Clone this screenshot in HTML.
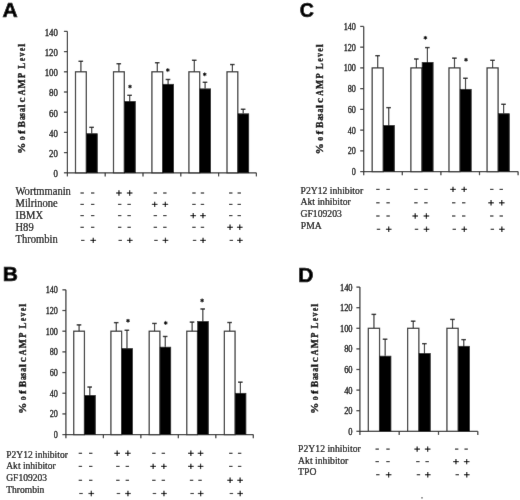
<!DOCTYPE html>
<html><head><meta charset="utf-8"><style>
html,body{margin:0;padding:0;background:#fff;}
svg{display:block;filter:grayscale(1);}
</style></head><body>
<svg width="520" height="500" viewBox="0 0 520 500">
<defs><filter id="bl" x="0" y="0" width="520" height="500" filterUnits="userSpaceOnUse"><feConvolveMatrix order="3" kernelMatrix="0.0035 0.0587 0.0035 0.0587 1.0000 0.0587 0.0035 0.0587 0.0035" edgeMode="duplicate" preserveAlpha="true"/></filter></defs>
<rect width="520" height="500" fill="#fff"/>
<g filter="url(#bl)">
<rect width="520" height="500" fill="#fff"/>
<line x1="67.40" y1="31.40" x2="67.40" y2="172.80" stroke="#333" stroke-width="1.25"/>
<line x1="67.40" y1="172.80" x2="256.40" y2="172.80" stroke="#333" stroke-width="1.25"/>
<line x1="63.90" y1="172.80" x2="67.40" y2="172.80" stroke="#333" stroke-width="1.25"/>
<text x="0" y="0" transform="translate(57.90,177.20) scale(0.82,1)" text-anchor="end" font-size="10.8" style="font-family:'Liberation Serif', serif" fill="#000" stroke="#000" stroke-width="0.32">0</text>
<line x1="63.90" y1="152.60" x2="67.40" y2="152.60" stroke="#333" stroke-width="1.25"/>
<text x="0" y="0" transform="translate(57.90,157.00) scale(0.82,1)" text-anchor="end" font-size="10.8" style="font-family:'Liberation Serif', serif" fill="#000" stroke="#000" stroke-width="0.32">20</text>
<line x1="63.90" y1="132.40" x2="67.40" y2="132.40" stroke="#333" stroke-width="1.25"/>
<text x="0" y="0" transform="translate(57.90,136.80) scale(0.82,1)" text-anchor="end" font-size="10.8" style="font-family:'Liberation Serif', serif" fill="#000" stroke="#000" stroke-width="0.32">40</text>
<line x1="63.90" y1="112.20" x2="67.40" y2="112.20" stroke="#333" stroke-width="1.25"/>
<text x="0" y="0" transform="translate(57.90,116.60) scale(0.82,1)" text-anchor="end" font-size="10.8" style="font-family:'Liberation Serif', serif" fill="#000" stroke="#000" stroke-width="0.32">60</text>
<line x1="63.90" y1="92.00" x2="67.40" y2="92.00" stroke="#333" stroke-width="1.25"/>
<text x="0" y="0" transform="translate(57.90,96.40) scale(0.82,1)" text-anchor="end" font-size="10.8" style="font-family:'Liberation Serif', serif" fill="#000" stroke="#000" stroke-width="0.32">80</text>
<line x1="63.90" y1="71.80" x2="67.40" y2="71.80" stroke="#333" stroke-width="1.25"/>
<text x="0" y="0" transform="translate(57.90,76.20) scale(0.82,1)" text-anchor="end" font-size="10.8" style="font-family:'Liberation Serif', serif" fill="#000" stroke="#000" stroke-width="0.32">100</text>
<line x1="63.90" y1="51.60" x2="67.40" y2="51.60" stroke="#333" stroke-width="1.25"/>
<text x="0" y="0" transform="translate(57.90,56.00) scale(0.82,1)" text-anchor="end" font-size="10.8" style="font-family:'Liberation Serif', serif" fill="#000" stroke="#000" stroke-width="0.32">120</text>
<line x1="63.90" y1="31.40" x2="67.40" y2="31.40" stroke="#333" stroke-width="1.25"/>
<text x="0" y="0" transform="translate(57.90,35.80) scale(0.82,1)" text-anchor="end" font-size="10.8" style="font-family:'Liberation Serif', serif" fill="#000" stroke="#000" stroke-width="0.32">140</text>
<line x1="67.40" y1="172.80" x2="67.40" y2="176.40" stroke="#333" stroke-width="1.25"/>
<line x1="105.20" y1="172.80" x2="105.20" y2="176.40" stroke="#333" stroke-width="1.25"/>
<line x1="143.00" y1="172.80" x2="143.00" y2="176.40" stroke="#333" stroke-width="1.25"/>
<line x1="180.80" y1="172.80" x2="180.80" y2="176.40" stroke="#333" stroke-width="1.25"/>
<line x1="218.60" y1="172.80" x2="218.60" y2="176.40" stroke="#333" stroke-width="1.25"/>
<line x1="256.40" y1="172.80" x2="256.40" y2="176.40" stroke="#333" stroke-width="1.25"/>
<rect x="75.50" y="71.80" width="10.80" height="101.00" fill="#fff" stroke="#333" stroke-width="1.25"/>
<line x1="80.90" y1="71.80" x2="80.90" y2="61.30" stroke="#333" stroke-width="1.2"/>
<line x1="78.50" y1="61.30" x2="83.10" y2="61.30" stroke="#222" stroke-width="1.4"/>
<rect x="86.50" y="133.71" width="10.80" height="39.09" fill="#000" stroke="#000" stroke-width="0.6"/>
<line x1="91.70" y1="133.41" x2="91.70" y2="127.35" stroke="#333" stroke-width="1.2"/>
<line x1="89.30" y1="127.35" x2="93.90" y2="127.35" stroke="#222" stroke-width="1.4"/>
<rect x="113.50" y="71.80" width="10.80" height="101.00" fill="#fff" stroke="#333" stroke-width="1.25"/>
<line x1="118.90" y1="71.80" x2="118.90" y2="63.72" stroke="#333" stroke-width="1.2"/>
<line x1="116.50" y1="63.72" x2="121.10" y2="63.72" stroke="#222" stroke-width="1.4"/>
<rect x="124.50" y="101.39" width="10.80" height="71.41" fill="#000" stroke="#000" stroke-width="0.6"/>
<line x1="129.70" y1="101.09" x2="129.70" y2="95.33" stroke="#333" stroke-width="1.2"/>
<line x1="127.30" y1="95.33" x2="131.90" y2="95.33" stroke="#222" stroke-width="1.4"/>
<g stroke="#222" stroke-width="1.1" stroke-linecap="round"><line x1="130.00" y1="85.00" x2="130.00" y2="88.00"/><line x1="128.70" y1="85.75" x2="131.30" y2="87.25"/><line x1="128.70" y1="87.25" x2="131.30" y2="85.75"/></g><circle cx="130.00" cy="86.50" r="1.0" fill="#000"/>
<rect x="151.90" y="71.80" width="10.80" height="101.00" fill="#fff" stroke="#333" stroke-width="1.25"/>
<line x1="157.30" y1="71.80" x2="157.30" y2="62.71" stroke="#333" stroke-width="1.2"/>
<line x1="154.90" y1="62.71" x2="159.50" y2="62.71" stroke="#222" stroke-width="1.4"/>
<rect x="162.90" y="84.22" width="10.80" height="88.58" fill="#000" stroke="#000" stroke-width="0.6"/>
<line x1="168.10" y1="83.92" x2="168.10" y2="79.48" stroke="#333" stroke-width="1.2"/>
<line x1="165.70" y1="79.48" x2="170.30" y2="79.48" stroke="#222" stroke-width="1.4"/>
<g stroke="#222" stroke-width="1.1" stroke-linecap="round"><line x1="167.80" y1="68.60" x2="167.80" y2="71.60"/><line x1="166.50" y1="69.35" x2="169.10" y2="70.85"/><line x1="166.50" y1="70.85" x2="169.10" y2="69.35"/></g><circle cx="167.80" cy="70.10" r="1.0" fill="#000"/>
<rect x="188.90" y="71.80" width="10.80" height="101.00" fill="#fff" stroke="#333" stroke-width="1.25"/>
<line x1="194.30" y1="71.80" x2="194.30" y2="60.29" stroke="#333" stroke-width="1.2"/>
<line x1="191.90" y1="60.29" x2="196.50" y2="60.29" stroke="#222" stroke-width="1.4"/>
<rect x="199.90" y="88.87" width="10.80" height="83.93" fill="#000" stroke="#000" stroke-width="0.6"/>
<line x1="205.10" y1="88.57" x2="205.10" y2="82.30" stroke="#333" stroke-width="1.2"/>
<line x1="202.70" y1="82.30" x2="207.30" y2="82.30" stroke="#222" stroke-width="1.4"/>
<g stroke="#222" stroke-width="1.1" stroke-linecap="round"><line x1="204.70" y1="72.80" x2="204.70" y2="75.80"/><line x1="203.40" y1="73.55" x2="206.00" y2="75.05"/><line x1="203.40" y1="75.05" x2="206.00" y2="73.55"/></g><circle cx="204.70" cy="74.30" r="1.0" fill="#000"/>
<rect x="227.00" y="71.80" width="10.80" height="101.00" fill="#fff" stroke="#333" stroke-width="1.25"/>
<line x1="232.40" y1="71.80" x2="232.40" y2="64.53" stroke="#333" stroke-width="1.2"/>
<line x1="230.00" y1="64.53" x2="234.60" y2="64.53" stroke="#222" stroke-width="1.4"/>
<rect x="238.00" y="113.81" width="10.80" height="58.99" fill="#000" stroke="#000" stroke-width="0.6"/>
<line x1="243.20" y1="113.51" x2="243.20" y2="109.27" stroke="#333" stroke-width="1.2"/>
<line x1="240.80" y1="109.27" x2="245.40" y2="109.27" stroke="#222" stroke-width="1.4"/>
<g font-size="10.1" font-weight="bold" style="font-family:'Liberation Serif', serif" fill="#000" stroke="#000" stroke-width="0.35"><text x="0" y="0" transform="translate(25.20,152.90) rotate(-90) scale(1.120,1) translate(-1.04,0)">%</text><text x="0" y="0" transform="translate(25.20,140.00) rotate(-90) scale(0.780,1) translate(-0.38,0)">o</text><text x="0" y="0" transform="translate(25.20,134.00) rotate(-90) scale(1.120,1) translate(-0.07,0)">f</text><text x="0" y="0" transform="translate(25.20,127.30) rotate(-90) scale(0.954,1) translate(-0.17,0)">B</text><text x="0" y="0" transform="translate(25.20,119.80) rotate(-90) scale(0.780,1) translate(-0.32,0)">a</text><text x="0" y="0" transform="translate(25.20,115.90) rotate(-90) scale(0.800,1) translate(-0.30,0)">s</text><text x="0" y="0" transform="translate(25.20,111.70) rotate(-90) scale(0.780,1) translate(-0.32,0)">a</text><text x="0" y="0" transform="translate(25.20,107.20) rotate(-90) scale(1.120,1) translate(-0.20,0)">l</text><text x="0" y="0" transform="translate(25.20,102.00) rotate(-90) scale(1.120,1) translate(-0.34,0)">c</text><text x="0" y="0" transform="translate(25.20,95.20) rotate(-90) scale(0.780,1) translate(-0.10,0)">A</text><text x="0" y="0" transform="translate(25.20,88.30) rotate(-90) scale(0.959,1) translate(-0.17,0)">M</text><text x="0" y="0" transform="translate(25.20,77.80) rotate(-90) scale(0.841,1) translate(-0.17,0)">P</text><text x="0" y="0" transform="translate(25.20,68.50) rotate(-90) scale(0.879,1) translate(-0.17,0)">L</text><text x="0" y="0" transform="translate(25.20,61.00) rotate(-90) scale(0.780,1) translate(-0.34,0)">e</text><text x="0" y="0" transform="translate(25.20,56.50) rotate(-90) scale(0.780,1) translate(-0.00,0)">v</text><text x="0" y="0" transform="translate(25.20,51.10) rotate(-90) scale(0.780,1) translate(-0.34,0)">e</text><text x="0" y="0" transform="translate(25.20,46.60) rotate(-90) scale(1.109,1) translate(-0.20,0)">l</text></g>
<text x="0" y="0" transform="translate(2.5,16.8) scale(1.0,1)" font-size="21" font-weight="bold" style="font-family:'Liberation Sans', sans-serif" fill="#000" stroke="#000" stroke-width="0.7">A</text>
<text x="0" y="0" transform="translate(15.5,194.5) scale(0.91,1)" font-size="11.6" style="font-family:'Liberation Serif', serif" fill="#000" stroke="#000" stroke-width="0.22">Wortmmanin</text>
<text x="0" y="0" transform="translate(15.5,206.5) scale(0.91,1)" font-size="11.6" style="font-family:'Liberation Serif', serif" fill="#000" stroke="#000" stroke-width="0.22">Milrinone</text>
<text x="0" y="0" transform="translate(15.5,218.5) scale(0.91,1)" font-size="11.6" style="font-family:'Liberation Serif', serif" fill="#000" stroke="#000" stroke-width="0.22">IBMX</text>
<text x="0" y="0" transform="translate(15.5,230.5) scale(0.91,1)" font-size="11.6" style="font-family:'Liberation Serif', serif" fill="#000" stroke="#000" stroke-width="0.22">H89</text>
<text x="0" y="0" transform="translate(15.5,242.5) scale(0.91,1)" font-size="11.6" style="font-family:'Liberation Serif', serif" fill="#000" stroke="#000" stroke-width="0.22">Thrombin</text>
<line x1="80.45" y1="193.00" x2="83.85" y2="193.00" stroke="#1a1a1a" stroke-width="1.15"/>
<line x1="90.95" y1="193.00" x2="94.35" y2="193.00" stroke="#1a1a1a" stroke-width="1.15"/>
<line x1="116.15" y1="193.00" x2="121.75" y2="193.00" stroke="#111" stroke-width="1.2"/>
<line x1="118.95" y1="190.30" x2="118.95" y2="195.70" stroke="#111" stroke-width="1.2"/>
<line x1="126.85" y1="193.00" x2="132.45" y2="193.00" stroke="#111" stroke-width="1.2"/>
<line x1="129.65" y1="190.30" x2="129.65" y2="195.70" stroke="#111" stroke-width="1.2"/>
<line x1="153.65" y1="193.00" x2="157.05" y2="193.00" stroke="#1a1a1a" stroke-width="1.15"/>
<line x1="163.15" y1="193.00" x2="166.55" y2="193.00" stroke="#1a1a1a" stroke-width="1.15"/>
<line x1="192.25" y1="193.00" x2="195.65" y2="193.00" stroke="#1a1a1a" stroke-width="1.15"/>
<line x1="200.75" y1="193.00" x2="204.15" y2="193.00" stroke="#1a1a1a" stroke-width="1.15"/>
<line x1="229.05" y1="193.00" x2="232.45" y2="193.00" stroke="#1a1a1a" stroke-width="1.15"/>
<line x1="237.55" y1="193.00" x2="240.95" y2="193.00" stroke="#1a1a1a" stroke-width="1.15"/>
<line x1="80.45" y1="204.40" x2="83.85" y2="204.40" stroke="#1a1a1a" stroke-width="1.15"/>
<line x1="90.95" y1="204.40" x2="94.35" y2="204.40" stroke="#1a1a1a" stroke-width="1.15"/>
<line x1="117.95" y1="204.40" x2="121.35" y2="204.40" stroke="#1a1a1a" stroke-width="1.15"/>
<line x1="127.45" y1="204.40" x2="130.85" y2="204.40" stroke="#1a1a1a" stroke-width="1.15"/>
<line x1="151.85" y1="204.40" x2="157.45" y2="204.40" stroke="#111" stroke-width="1.2"/>
<line x1="154.65" y1="201.70" x2="154.65" y2="207.10" stroke="#111" stroke-width="1.2"/>
<line x1="162.55" y1="204.40" x2="168.15" y2="204.40" stroke="#111" stroke-width="1.2"/>
<line x1="165.35" y1="201.70" x2="165.35" y2="207.10" stroke="#111" stroke-width="1.2"/>
<line x1="192.25" y1="204.40" x2="195.65" y2="204.40" stroke="#1a1a1a" stroke-width="1.15"/>
<line x1="200.75" y1="204.40" x2="204.15" y2="204.40" stroke="#1a1a1a" stroke-width="1.15"/>
<line x1="229.05" y1="204.40" x2="232.45" y2="204.40" stroke="#1a1a1a" stroke-width="1.15"/>
<line x1="237.55" y1="204.40" x2="240.95" y2="204.40" stroke="#1a1a1a" stroke-width="1.15"/>
<line x1="80.45" y1="215.60" x2="83.85" y2="215.60" stroke="#1a1a1a" stroke-width="1.15"/>
<line x1="90.95" y1="215.60" x2="94.35" y2="215.60" stroke="#1a1a1a" stroke-width="1.15"/>
<line x1="117.95" y1="215.60" x2="121.35" y2="215.60" stroke="#1a1a1a" stroke-width="1.15"/>
<line x1="127.45" y1="215.60" x2="130.85" y2="215.60" stroke="#1a1a1a" stroke-width="1.15"/>
<line x1="153.65" y1="215.60" x2="157.05" y2="215.60" stroke="#1a1a1a" stroke-width="1.15"/>
<line x1="163.15" y1="215.60" x2="166.55" y2="215.60" stroke="#1a1a1a" stroke-width="1.15"/>
<line x1="190.45" y1="215.60" x2="196.05" y2="215.60" stroke="#111" stroke-width="1.2"/>
<line x1="193.25" y1="212.90" x2="193.25" y2="218.30" stroke="#111" stroke-width="1.2"/>
<line x1="200.15" y1="215.60" x2="205.75" y2="215.60" stroke="#111" stroke-width="1.2"/>
<line x1="202.95" y1="212.90" x2="202.95" y2="218.30" stroke="#111" stroke-width="1.2"/>
<line x1="229.05" y1="215.60" x2="232.45" y2="215.60" stroke="#1a1a1a" stroke-width="1.15"/>
<line x1="237.55" y1="215.60" x2="240.95" y2="215.60" stroke="#1a1a1a" stroke-width="1.15"/>
<line x1="80.45" y1="227.30" x2="83.85" y2="227.30" stroke="#1a1a1a" stroke-width="1.15"/>
<line x1="90.95" y1="227.30" x2="94.35" y2="227.30" stroke="#1a1a1a" stroke-width="1.15"/>
<line x1="117.95" y1="227.30" x2="121.35" y2="227.30" stroke="#1a1a1a" stroke-width="1.15"/>
<line x1="127.45" y1="227.30" x2="130.85" y2="227.30" stroke="#1a1a1a" stroke-width="1.15"/>
<line x1="153.65" y1="227.30" x2="157.05" y2="227.30" stroke="#1a1a1a" stroke-width="1.15"/>
<line x1="163.15" y1="227.30" x2="166.55" y2="227.30" stroke="#1a1a1a" stroke-width="1.15"/>
<line x1="192.25" y1="227.30" x2="195.65" y2="227.30" stroke="#1a1a1a" stroke-width="1.15"/>
<line x1="200.75" y1="227.30" x2="204.15" y2="227.30" stroke="#1a1a1a" stroke-width="1.15"/>
<line x1="227.25" y1="227.30" x2="232.85" y2="227.30" stroke="#111" stroke-width="1.2"/>
<line x1="230.05" y1="224.60" x2="230.05" y2="230.00" stroke="#111" stroke-width="1.2"/>
<line x1="236.95" y1="227.30" x2="242.55" y2="227.30" stroke="#111" stroke-width="1.2"/>
<line x1="239.75" y1="224.60" x2="239.75" y2="230.00" stroke="#111" stroke-width="1.2"/>
<line x1="81.05" y1="240.40" x2="84.45" y2="240.40" stroke="#1a1a1a" stroke-width="1.15"/>
<line x1="90.45" y1="240.40" x2="96.05" y2="240.40" stroke="#111" stroke-width="1.2"/>
<line x1="93.25" y1="237.70" x2="93.25" y2="243.10" stroke="#111" stroke-width="1.2"/>
<line x1="118.55" y1="240.40" x2="121.95" y2="240.40" stroke="#1a1a1a" stroke-width="1.15"/>
<line x1="126.95" y1="240.40" x2="132.55" y2="240.40" stroke="#111" stroke-width="1.2"/>
<line x1="129.75" y1="237.70" x2="129.75" y2="243.10" stroke="#111" stroke-width="1.2"/>
<line x1="154.25" y1="240.40" x2="157.65" y2="240.40" stroke="#1a1a1a" stroke-width="1.15"/>
<line x1="162.65" y1="240.40" x2="168.25" y2="240.40" stroke="#111" stroke-width="1.2"/>
<line x1="165.45" y1="237.70" x2="165.45" y2="243.10" stroke="#111" stroke-width="1.2"/>
<line x1="192.85" y1="240.40" x2="196.25" y2="240.40" stroke="#1a1a1a" stroke-width="1.15"/>
<line x1="200.25" y1="240.40" x2="205.85" y2="240.40" stroke="#111" stroke-width="1.2"/>
<line x1="203.05" y1="237.70" x2="203.05" y2="243.10" stroke="#111" stroke-width="1.2"/>
<line x1="229.65" y1="240.40" x2="233.05" y2="240.40" stroke="#1a1a1a" stroke-width="1.15"/>
<line x1="237.05" y1="240.40" x2="242.65" y2="240.40" stroke="#111" stroke-width="1.2"/>
<line x1="239.85" y1="237.70" x2="239.85" y2="243.10" stroke="#111" stroke-width="1.2"/>
<line x1="65.90" y1="289.84" x2="65.90" y2="434.60" stroke="#333" stroke-width="1.25"/>
<line x1="65.90" y1="434.60" x2="253.30" y2="434.60" stroke="#333" stroke-width="1.25"/>
<line x1="62.40" y1="434.60" x2="65.90" y2="434.60" stroke="#333" stroke-width="1.25"/>
<text x="0" y="0" transform="translate(57.90,438.00) scale(0.84,1)" text-anchor="end" font-size="9.7" style="font-family:'Liberation Serif', serif" fill="#000" stroke="#000" stroke-width="0.32">0</text>
<line x1="62.40" y1="413.92" x2="65.90" y2="413.92" stroke="#333" stroke-width="1.25"/>
<text x="0" y="0" transform="translate(57.90,417.32) scale(0.84,1)" text-anchor="end" font-size="9.7" style="font-family:'Liberation Serif', serif" fill="#000" stroke="#000" stroke-width="0.32">20</text>
<line x1="62.40" y1="393.24" x2="65.90" y2="393.24" stroke="#333" stroke-width="1.25"/>
<text x="0" y="0" transform="translate(57.90,396.64) scale(0.84,1)" text-anchor="end" font-size="9.7" style="font-family:'Liberation Serif', serif" fill="#000" stroke="#000" stroke-width="0.32">40</text>
<line x1="62.40" y1="372.56" x2="65.90" y2="372.56" stroke="#333" stroke-width="1.25"/>
<text x="0" y="0" transform="translate(57.90,375.96) scale(0.84,1)" text-anchor="end" font-size="9.7" style="font-family:'Liberation Serif', serif" fill="#000" stroke="#000" stroke-width="0.32">60</text>
<line x1="62.40" y1="351.88" x2="65.90" y2="351.88" stroke="#333" stroke-width="1.25"/>
<text x="0" y="0" transform="translate(57.90,355.28) scale(0.84,1)" text-anchor="end" font-size="9.7" style="font-family:'Liberation Serif', serif" fill="#000" stroke="#000" stroke-width="0.32">80</text>
<line x1="62.40" y1="331.20" x2="65.90" y2="331.20" stroke="#333" stroke-width="1.25"/>
<text x="0" y="0" transform="translate(57.90,334.60) scale(0.84,1)" text-anchor="end" font-size="9.7" style="font-family:'Liberation Serif', serif" fill="#000" stroke="#000" stroke-width="0.32">100</text>
<line x1="62.40" y1="310.52" x2="65.90" y2="310.52" stroke="#333" stroke-width="1.25"/>
<text x="0" y="0" transform="translate(57.90,313.92) scale(0.84,1)" text-anchor="end" font-size="9.7" style="font-family:'Liberation Serif', serif" fill="#000" stroke="#000" stroke-width="0.32">120</text>
<line x1="62.40" y1="289.84" x2="65.90" y2="289.84" stroke="#333" stroke-width="1.25"/>
<text x="0" y="0" transform="translate(57.90,293.24) scale(0.84,1)" text-anchor="end" font-size="9.7" style="font-family:'Liberation Serif', serif" fill="#000" stroke="#000" stroke-width="0.32">140</text>
<line x1="65.90" y1="434.60" x2="65.90" y2="438.20" stroke="#333" stroke-width="1.25"/>
<line x1="103.38" y1="434.60" x2="103.38" y2="438.20" stroke="#333" stroke-width="1.25"/>
<line x1="140.86" y1="434.60" x2="140.86" y2="438.20" stroke="#333" stroke-width="1.25"/>
<line x1="178.34" y1="434.60" x2="178.34" y2="438.20" stroke="#333" stroke-width="1.25"/>
<line x1="215.82" y1="434.60" x2="215.82" y2="438.20" stroke="#333" stroke-width="1.25"/>
<line x1="253.30" y1="434.60" x2="253.30" y2="438.20" stroke="#333" stroke-width="1.25"/>
<rect x="73.73" y="331.20" width="10.71" height="103.40" fill="#fff" stroke="#333" stroke-width="1.25"/>
<line x1="79.09" y1="331.20" x2="79.09" y2="324.89" stroke="#333" stroke-width="1.2"/>
<line x1="76.69" y1="324.89" x2="81.29" y2="324.89" stroke="#222" stroke-width="1.4"/>
<rect x="84.64" y="395.40" width="10.71" height="39.20" fill="#000" stroke="#000" stroke-width="0.6"/>
<line x1="89.79" y1="395.10" x2="89.79" y2="387.04" stroke="#333" stroke-width="1.2"/>
<line x1="87.39" y1="387.04" x2="91.99" y2="387.04" stroke="#222" stroke-width="1.4"/>
<rect x="110.91" y="331.20" width="10.71" height="103.40" fill="#fff" stroke="#333" stroke-width="1.25"/>
<line x1="116.27" y1="331.20" x2="116.27" y2="322.62" stroke="#333" stroke-width="1.2"/>
<line x1="113.87" y1="322.62" x2="118.47" y2="322.62" stroke="#222" stroke-width="1.4"/>
<rect x="121.82" y="348.56" width="10.71" height="86.04" fill="#000" stroke="#000" stroke-width="0.6"/>
<line x1="126.97" y1="348.26" x2="126.97" y2="330.27" stroke="#333" stroke-width="1.2"/>
<line x1="124.57" y1="330.27" x2="129.17" y2="330.27" stroke="#222" stroke-width="1.4"/>
<g stroke="#222" stroke-width="1.1" stroke-linecap="round"><line x1="128.00" y1="319.20" x2="128.00" y2="322.20"/><line x1="126.70" y1="319.95" x2="129.30" y2="321.45"/><line x1="126.70" y1="321.45" x2="129.30" y2="319.95"/></g><circle cx="128.00" cy="320.70" r="1.0" fill="#000"/>
<rect x="149.19" y="331.20" width="10.71" height="103.40" fill="#fff" stroke="#333" stroke-width="1.25"/>
<line x1="154.55" y1="331.20" x2="154.55" y2="323.45" stroke="#333" stroke-width="1.2"/>
<line x1="152.15" y1="323.45" x2="156.75" y2="323.45" stroke="#222" stroke-width="1.4"/>
<rect x="160.10" y="347.11" width="10.71" height="87.49" fill="#000" stroke="#000" stroke-width="0.6"/>
<line x1="165.25" y1="346.81" x2="165.25" y2="336.47" stroke="#333" stroke-width="1.2"/>
<line x1="162.85" y1="336.47" x2="167.45" y2="336.47" stroke="#222" stroke-width="1.4"/>
<g stroke="#222" stroke-width="1.1" stroke-linecap="round"><line x1="165.70" y1="321.40" x2="165.70" y2="324.40"/><line x1="164.40" y1="322.15" x2="167.00" y2="323.65"/><line x1="164.40" y1="323.65" x2="167.00" y2="322.15"/></g><circle cx="165.70" cy="322.90" r="1.0" fill="#000"/>
<rect x="186.77" y="331.20" width="10.71" height="103.40" fill="#fff" stroke="#333" stroke-width="1.25"/>
<line x1="192.13" y1="331.20" x2="192.13" y2="322.10" stroke="#333" stroke-width="1.2"/>
<line x1="189.73" y1="322.10" x2="194.33" y2="322.10" stroke="#222" stroke-width="1.4"/>
<rect x="197.68" y="321.47" width="10.71" height="113.13" fill="#000" stroke="#000" stroke-width="0.6"/>
<line x1="202.83" y1="321.17" x2="202.83" y2="308.97" stroke="#333" stroke-width="1.2"/>
<line x1="200.43" y1="308.97" x2="205.03" y2="308.97" stroke="#222" stroke-width="1.4"/>
<g stroke="#222" stroke-width="1.1" stroke-linecap="round"><line x1="202.10" y1="298.90" x2="202.10" y2="301.90"/><line x1="200.80" y1="299.65" x2="203.40" y2="301.15"/><line x1="200.80" y1="301.15" x2="203.40" y2="299.65"/></g><circle cx="202.10" cy="300.40" r="1.0" fill="#000"/>
<rect x="224.35" y="331.20" width="10.71" height="103.40" fill="#fff" stroke="#333" stroke-width="1.25"/>
<line x1="229.71" y1="331.20" x2="229.71" y2="322.51" stroke="#333" stroke-width="1.2"/>
<line x1="227.31" y1="322.51" x2="231.91" y2="322.51" stroke="#222" stroke-width="1.4"/>
<rect x="235.26" y="393.23" width="10.71" height="41.37" fill="#000" stroke="#000" stroke-width="0.6"/>
<line x1="240.41" y1="392.93" x2="240.41" y2="382.18" stroke="#333" stroke-width="1.2"/>
<line x1="238.01" y1="382.18" x2="242.61" y2="382.18" stroke="#222" stroke-width="1.4"/>
<g font-size="10.1" font-weight="bold" style="font-family:'Liberation Serif', serif" fill="#000" stroke="#000" stroke-width="0.35"><text x="0" y="0" transform="translate(25.90,412.80) rotate(-90) scale(1.120,1) translate(-1.04,0)">%</text><text x="0" y="0" transform="translate(25.90,399.90) rotate(-90) scale(0.780,1) translate(-0.38,0)">o</text><text x="0" y="0" transform="translate(25.90,393.90) rotate(-90) scale(1.120,1) translate(-0.07,0)">f</text><text x="0" y="0" transform="translate(25.90,387.20) rotate(-90) scale(0.954,1) translate(-0.17,0)">B</text><text x="0" y="0" transform="translate(25.90,379.70) rotate(-90) scale(0.780,1) translate(-0.32,0)">a</text><text x="0" y="0" transform="translate(25.90,375.80) rotate(-90) scale(0.800,1) translate(-0.30,0)">s</text><text x="0" y="0" transform="translate(25.90,371.60) rotate(-90) scale(0.780,1) translate(-0.32,0)">a</text><text x="0" y="0" transform="translate(25.90,367.10) rotate(-90) scale(1.120,1) translate(-0.20,0)">l</text><text x="0" y="0" transform="translate(25.90,361.90) rotate(-90) scale(1.120,1) translate(-0.34,0)">c</text><text x="0" y="0" transform="translate(25.90,355.10) rotate(-90) scale(0.780,1) translate(-0.10,0)">A</text><text x="0" y="0" transform="translate(25.90,348.20) rotate(-90) scale(0.959,1) translate(-0.17,0)">M</text><text x="0" y="0" transform="translate(25.90,337.70) rotate(-90) scale(0.841,1) translate(-0.17,0)">P</text><text x="0" y="0" transform="translate(25.90,328.40) rotate(-90) scale(0.879,1) translate(-0.17,0)">L</text><text x="0" y="0" transform="translate(25.90,320.90) rotate(-90) scale(0.780,1) translate(-0.34,0)">e</text><text x="0" y="0" transform="translate(25.90,316.40) rotate(-90) scale(0.780,1) translate(-0.00,0)">v</text><text x="0" y="0" transform="translate(25.90,311.00) rotate(-90) scale(0.780,1) translate(-0.34,0)">e</text><text x="0" y="0" transform="translate(25.90,306.50) rotate(-90) scale(1.109,1) translate(-0.20,0)">l</text></g>
<text x="0" y="0" transform="translate(2.8,281.4) scale(1.0,1)" font-size="21" font-weight="bold" style="font-family:'Liberation Sans', sans-serif" fill="#000" stroke="#000" stroke-width="0.7">B</text>
<text x="0" y="0" transform="translate(6.25,457.5) scale(0.925,1)" font-size="10.3" style="font-family:'Liberation Serif', serif" fill="#000" stroke="#000" stroke-width="0.22">P2Y12 inhibitor</text>
<text x="0" y="0" transform="translate(6.25,469.09999999999997) scale(0.925,1)" font-size="10.3" style="font-family:'Liberation Serif', serif" fill="#000" stroke="#000" stroke-width="0.22">Akt inhibitor</text>
<text x="0" y="0" transform="translate(6.25,480.79999999999995) scale(0.925,1)" font-size="10.3" style="font-family:'Liberation Serif', serif" fill="#000" stroke="#000" stroke-width="0.22">GF109203</text>
<text x="0" y="0" transform="translate(6.25,492.9) scale(0.925,1)" font-size="10.3" style="font-family:'Liberation Serif', serif" fill="#000" stroke="#000" stroke-width="0.22">Thrombin</text>
<line x1="78.70" y1="453.30" x2="82.10" y2="453.30" stroke="#1a1a1a" stroke-width="1.15"/>
<line x1="89.00" y1="453.30" x2="92.40" y2="453.30" stroke="#1a1a1a" stroke-width="1.15"/>
<line x1="114.35" y1="453.30" x2="119.95" y2="453.30" stroke="#111" stroke-width="1.2"/>
<line x1="117.15" y1="450.60" x2="117.15" y2="456.00" stroke="#111" stroke-width="1.2"/>
<line x1="125.05" y1="453.30" x2="130.65" y2="453.30" stroke="#111" stroke-width="1.2"/>
<line x1="127.85" y1="450.60" x2="127.85" y2="456.00" stroke="#111" stroke-width="1.2"/>
<line x1="152.15" y1="453.30" x2="155.55" y2="453.30" stroke="#1a1a1a" stroke-width="1.15"/>
<line x1="161.65" y1="453.30" x2="165.05" y2="453.30" stroke="#1a1a1a" stroke-width="1.15"/>
<line x1="188.05" y1="453.30" x2="193.65" y2="453.30" stroke="#111" stroke-width="1.2"/>
<line x1="190.85" y1="450.60" x2="190.85" y2="456.00" stroke="#111" stroke-width="1.2"/>
<line x1="197.75" y1="453.30" x2="203.35" y2="453.30" stroke="#111" stroke-width="1.2"/>
<line x1="200.55" y1="450.60" x2="200.55" y2="456.00" stroke="#111" stroke-width="1.2"/>
<line x1="229.10" y1="453.30" x2="232.50" y2="453.30" stroke="#1a1a1a" stroke-width="1.15"/>
<line x1="237.90" y1="453.30" x2="241.30" y2="453.30" stroke="#1a1a1a" stroke-width="1.15"/>
<line x1="78.70" y1="466.40" x2="82.10" y2="466.40" stroke="#1a1a1a" stroke-width="1.15"/>
<line x1="89.00" y1="466.40" x2="92.40" y2="466.40" stroke="#1a1a1a" stroke-width="1.15"/>
<line x1="116.15" y1="466.40" x2="119.55" y2="466.40" stroke="#1a1a1a" stroke-width="1.15"/>
<line x1="125.65" y1="466.40" x2="129.05" y2="466.40" stroke="#1a1a1a" stroke-width="1.15"/>
<line x1="150.35" y1="466.40" x2="155.95" y2="466.40" stroke="#111" stroke-width="1.2"/>
<line x1="153.15" y1="463.70" x2="153.15" y2="469.10" stroke="#111" stroke-width="1.2"/>
<line x1="161.05" y1="466.40" x2="166.65" y2="466.40" stroke="#111" stroke-width="1.2"/>
<line x1="163.85" y1="463.70" x2="163.85" y2="469.10" stroke="#111" stroke-width="1.2"/>
<line x1="188.05" y1="466.40" x2="193.65" y2="466.40" stroke="#111" stroke-width="1.2"/>
<line x1="190.85" y1="463.70" x2="190.85" y2="469.10" stroke="#111" stroke-width="1.2"/>
<line x1="197.75" y1="466.40" x2="203.35" y2="466.40" stroke="#111" stroke-width="1.2"/>
<line x1="200.55" y1="463.70" x2="200.55" y2="469.10" stroke="#111" stroke-width="1.2"/>
<line x1="229.10" y1="466.40" x2="232.50" y2="466.40" stroke="#1a1a1a" stroke-width="1.15"/>
<line x1="237.90" y1="466.40" x2="241.30" y2="466.40" stroke="#1a1a1a" stroke-width="1.15"/>
<line x1="78.70" y1="480.30" x2="82.10" y2="480.30" stroke="#1a1a1a" stroke-width="1.15"/>
<line x1="89.00" y1="480.30" x2="92.40" y2="480.30" stroke="#1a1a1a" stroke-width="1.15"/>
<line x1="116.15" y1="480.30" x2="119.55" y2="480.30" stroke="#1a1a1a" stroke-width="1.15"/>
<line x1="125.65" y1="480.30" x2="129.05" y2="480.30" stroke="#1a1a1a" stroke-width="1.15"/>
<line x1="152.15" y1="480.30" x2="155.55" y2="480.30" stroke="#1a1a1a" stroke-width="1.15"/>
<line x1="161.65" y1="480.30" x2="165.05" y2="480.30" stroke="#1a1a1a" stroke-width="1.15"/>
<line x1="189.85" y1="480.30" x2="193.25" y2="480.30" stroke="#1a1a1a" stroke-width="1.15"/>
<line x1="198.35" y1="480.30" x2="201.75" y2="480.30" stroke="#1a1a1a" stroke-width="1.15"/>
<line x1="227.30" y1="480.30" x2="232.90" y2="480.30" stroke="#111" stroke-width="1.2"/>
<line x1="230.10" y1="477.60" x2="230.10" y2="483.00" stroke="#111" stroke-width="1.2"/>
<line x1="237.30" y1="480.30" x2="242.90" y2="480.30" stroke="#111" stroke-width="1.2"/>
<line x1="240.10" y1="477.60" x2="240.10" y2="483.00" stroke="#111" stroke-width="1.2"/>
<line x1="79.30" y1="493.50" x2="82.70" y2="493.50" stroke="#1a1a1a" stroke-width="1.15"/>
<line x1="88.50" y1="493.50" x2="94.10" y2="493.50" stroke="#111" stroke-width="1.2"/>
<line x1="91.30" y1="490.80" x2="91.30" y2="496.20" stroke="#111" stroke-width="1.2"/>
<line x1="116.75" y1="493.50" x2="120.15" y2="493.50" stroke="#1a1a1a" stroke-width="1.15"/>
<line x1="125.15" y1="493.50" x2="130.75" y2="493.50" stroke="#111" stroke-width="1.2"/>
<line x1="127.95" y1="490.80" x2="127.95" y2="496.20" stroke="#111" stroke-width="1.2"/>
<line x1="152.75" y1="493.50" x2="156.15" y2="493.50" stroke="#1a1a1a" stroke-width="1.15"/>
<line x1="161.15" y1="493.50" x2="166.75" y2="493.50" stroke="#111" stroke-width="1.2"/>
<line x1="163.95" y1="490.80" x2="163.95" y2="496.20" stroke="#111" stroke-width="1.2"/>
<line x1="190.45" y1="493.50" x2="193.85" y2="493.50" stroke="#1a1a1a" stroke-width="1.15"/>
<line x1="197.85" y1="493.50" x2="203.45" y2="493.50" stroke="#111" stroke-width="1.2"/>
<line x1="200.65" y1="490.80" x2="200.65" y2="496.20" stroke="#111" stroke-width="1.2"/>
<line x1="229.70" y1="493.50" x2="233.10" y2="493.50" stroke="#1a1a1a" stroke-width="1.15"/>
<line x1="237.40" y1="493.50" x2="243.00" y2="493.50" stroke="#111" stroke-width="1.2"/>
<line x1="240.20" y1="490.80" x2="240.20" y2="496.20" stroke="#111" stroke-width="1.2"/>
<line x1="363.70" y1="26.42" x2="363.70" y2="171.60" stroke="#333" stroke-width="1.25"/>
<line x1="363.70" y1="171.60" x2="518.10" y2="171.60" stroke="#333" stroke-width="1.25"/>
<line x1="360.20" y1="171.60" x2="363.70" y2="171.60" stroke="#333" stroke-width="1.25"/>
<text x="0" y="0" transform="translate(355.90,175.00) scale(0.84,1)" text-anchor="end" font-size="9.7" style="font-family:'Liberation Serif', serif" fill="#000" stroke="#000" stroke-width="0.32">0</text>
<line x1="360.20" y1="150.86" x2="363.70" y2="150.86" stroke="#333" stroke-width="1.25"/>
<text x="0" y="0" transform="translate(355.90,154.26) scale(0.84,1)" text-anchor="end" font-size="9.7" style="font-family:'Liberation Serif', serif" fill="#000" stroke="#000" stroke-width="0.32">20</text>
<line x1="360.20" y1="130.12" x2="363.70" y2="130.12" stroke="#333" stroke-width="1.25"/>
<text x="0" y="0" transform="translate(355.90,133.52) scale(0.84,1)" text-anchor="end" font-size="9.7" style="font-family:'Liberation Serif', serif" fill="#000" stroke="#000" stroke-width="0.32">40</text>
<line x1="360.20" y1="109.38" x2="363.70" y2="109.38" stroke="#333" stroke-width="1.25"/>
<text x="0" y="0" transform="translate(355.90,112.78) scale(0.84,1)" text-anchor="end" font-size="9.7" style="font-family:'Liberation Serif', serif" fill="#000" stroke="#000" stroke-width="0.32">60</text>
<line x1="360.20" y1="88.64" x2="363.70" y2="88.64" stroke="#333" stroke-width="1.25"/>
<text x="0" y="0" transform="translate(355.90,92.04) scale(0.84,1)" text-anchor="end" font-size="9.7" style="font-family:'Liberation Serif', serif" fill="#000" stroke="#000" stroke-width="0.32">80</text>
<line x1="360.20" y1="67.90" x2="363.70" y2="67.90" stroke="#333" stroke-width="1.25"/>
<text x="0" y="0" transform="translate(355.90,71.30) scale(0.84,1)" text-anchor="end" font-size="9.7" style="font-family:'Liberation Serif', serif" fill="#000" stroke="#000" stroke-width="0.32">100</text>
<line x1="360.20" y1="47.16" x2="363.70" y2="47.16" stroke="#333" stroke-width="1.25"/>
<text x="0" y="0" transform="translate(355.90,50.56) scale(0.84,1)" text-anchor="end" font-size="9.7" style="font-family:'Liberation Serif', serif" fill="#000" stroke="#000" stroke-width="0.32">120</text>
<line x1="360.20" y1="26.42" x2="363.70" y2="26.42" stroke="#333" stroke-width="1.25"/>
<text x="0" y="0" transform="translate(355.90,29.82) scale(0.84,1)" text-anchor="end" font-size="9.7" style="font-family:'Liberation Serif', serif" fill="#000" stroke="#000" stroke-width="0.32">140</text>
<line x1="363.70" y1="171.60" x2="363.70" y2="175.20" stroke="#333" stroke-width="1.25"/>
<line x1="402.30" y1="171.60" x2="402.30" y2="175.20" stroke="#333" stroke-width="1.25"/>
<line x1="440.90" y1="171.60" x2="440.90" y2="175.20" stroke="#333" stroke-width="1.25"/>
<line x1="479.50" y1="171.60" x2="479.50" y2="175.20" stroke="#333" stroke-width="1.25"/>
<line x1="518.10" y1="171.60" x2="518.10" y2="175.20" stroke="#333" stroke-width="1.25"/>
<rect x="372.17" y="67.90" width="11.03" height="103.70" fill="#fff" stroke="#333" stroke-width="1.25"/>
<line x1="377.69" y1="67.90" x2="377.69" y2="55.66" stroke="#333" stroke-width="1.2"/>
<line x1="375.29" y1="55.66" x2="379.89" y2="55.66" stroke="#222" stroke-width="1.4"/>
<rect x="383.40" y="125.44" width="11.03" height="46.16" fill="#000" stroke="#000" stroke-width="0.6"/>
<line x1="388.71" y1="125.14" x2="388.71" y2="107.62" stroke="#333" stroke-width="1.2"/>
<line x1="386.31" y1="107.62" x2="390.91" y2="107.62" stroke="#222" stroke-width="1.4"/>
<rect x="410.87" y="67.90" width="11.03" height="103.70" fill="#fff" stroke="#333" stroke-width="1.25"/>
<line x1="416.39" y1="67.90" x2="416.39" y2="58.98" stroke="#333" stroke-width="1.2"/>
<line x1="413.99" y1="58.98" x2="418.59" y2="58.98" stroke="#222" stroke-width="1.4"/>
<rect x="422.10" y="62.29" width="11.03" height="109.31" fill="#000" stroke="#000" stroke-width="0.6"/>
<line x1="427.41" y1="61.99" x2="427.41" y2="47.57" stroke="#333" stroke-width="1.2"/>
<line x1="425.01" y1="47.57" x2="429.61" y2="47.57" stroke="#222" stroke-width="1.4"/>
<g stroke="#222" stroke-width="1.1" stroke-linecap="round"><line x1="425.40" y1="36.30" x2="425.40" y2="39.30"/><line x1="424.10" y1="37.05" x2="426.70" y2="38.55"/><line x1="424.10" y1="38.55" x2="426.70" y2="37.05"/></g><circle cx="425.40" cy="37.80" r="1.0" fill="#000"/>
<rect x="448.97" y="67.90" width="11.03" height="103.70" fill="#fff" stroke="#333" stroke-width="1.25"/>
<line x1="454.49" y1="67.90" x2="454.49" y2="58.15" stroke="#333" stroke-width="1.2"/>
<line x1="452.09" y1="58.15" x2="456.69" y2="58.15" stroke="#222" stroke-width="1.4"/>
<rect x="460.20" y="89.25" width="11.03" height="82.35" fill="#000" stroke="#000" stroke-width="0.6"/>
<line x1="465.51" y1="88.95" x2="465.51" y2="78.27" stroke="#333" stroke-width="1.2"/>
<line x1="463.11" y1="78.27" x2="467.71" y2="78.27" stroke="#222" stroke-width="1.4"/>
<g stroke="#222" stroke-width="1.1" stroke-linecap="round"><line x1="466.00" y1="58.30" x2="466.00" y2="61.30"/><line x1="464.70" y1="59.05" x2="467.30" y2="60.55"/><line x1="464.70" y1="60.55" x2="467.30" y2="59.05"/></g><circle cx="466.00" cy="59.80" r="1.0" fill="#000"/>
<rect x="487.07" y="67.90" width="11.03" height="103.70" fill="#fff" stroke="#333" stroke-width="1.25"/>
<line x1="492.59" y1="67.90" x2="492.59" y2="60.33" stroke="#333" stroke-width="1.2"/>
<line x1="490.19" y1="60.33" x2="494.79" y2="60.33" stroke="#222" stroke-width="1.4"/>
<rect x="498.30" y="113.72" width="11.03" height="57.88" fill="#000" stroke="#000" stroke-width="0.6"/>
<line x1="503.61" y1="113.42" x2="503.61" y2="104.30" stroke="#333" stroke-width="1.2"/>
<line x1="501.21" y1="104.30" x2="505.81" y2="104.30" stroke="#222" stroke-width="1.4"/>
<g font-size="10.1" font-weight="bold" style="font-family:'Liberation Serif', serif" fill="#000" stroke="#000" stroke-width="0.35"><text x="0" y="0" transform="translate(322.70,153.40) rotate(-90) scale(1.120,1) translate(-1.04,0)">%</text><text x="0" y="0" transform="translate(322.70,140.50) rotate(-90) scale(0.780,1) translate(-0.38,0)">o</text><text x="0" y="0" transform="translate(322.70,134.50) rotate(-90) scale(1.120,1) translate(-0.07,0)">f</text><text x="0" y="0" transform="translate(322.70,127.80) rotate(-90) scale(0.954,1) translate(-0.17,0)">B</text><text x="0" y="0" transform="translate(322.70,120.30) rotate(-90) scale(0.780,1) translate(-0.32,0)">a</text><text x="0" y="0" transform="translate(322.70,116.40) rotate(-90) scale(0.800,1) translate(-0.30,0)">s</text><text x="0" y="0" transform="translate(322.70,112.20) rotate(-90) scale(0.780,1) translate(-0.32,0)">a</text><text x="0" y="0" transform="translate(322.70,107.70) rotate(-90) scale(1.120,1) translate(-0.20,0)">l</text><text x="0" y="0" transform="translate(322.70,102.50) rotate(-90) scale(1.120,1) translate(-0.34,0)">c</text><text x="0" y="0" transform="translate(322.70,95.70) rotate(-90) scale(0.780,1) translate(-0.10,0)">A</text><text x="0" y="0" transform="translate(322.70,88.80) rotate(-90) scale(0.959,1) translate(-0.17,0)">M</text><text x="0" y="0" transform="translate(322.70,78.30) rotate(-90) scale(0.841,1) translate(-0.17,0)">P</text><text x="0" y="0" transform="translate(322.70,69.00) rotate(-90) scale(0.879,1) translate(-0.17,0)">L</text><text x="0" y="0" transform="translate(322.70,61.50) rotate(-90) scale(0.780,1) translate(-0.34,0)">e</text><text x="0" y="0" transform="translate(322.70,57.00) rotate(-90) scale(0.780,1) translate(-0.00,0)">v</text><text x="0" y="0" transform="translate(322.70,51.60) rotate(-90) scale(0.780,1) translate(-0.34,0)">e</text><text x="0" y="0" transform="translate(322.70,47.10) rotate(-90) scale(1.109,1) translate(-0.20,0)">l</text></g>
<text x="0" y="0" transform="translate(299.8,16.8) scale(0.93,1)" font-size="21" font-weight="bold" style="font-family:'Liberation Sans', sans-serif" fill="#000" stroke="#000" stroke-width="0.7">C</text>
<text x="0" y="0" transform="translate(300.5,193.70000000000002) scale(0.94,1)" font-size="10.3" style="font-family:'Liberation Serif', serif" fill="#000" stroke="#000" stroke-width="0.22">P2Y12 inhibitor</text>
<text x="0" y="0" transform="translate(300.5,205.4) scale(0.94,1)" font-size="10.3" style="font-family:'Liberation Serif', serif" fill="#000" stroke="#000" stroke-width="0.22">Akt inhibitor</text>
<text x="0" y="0" transform="translate(300.5,217.3) scale(0.94,1)" font-size="10.3" style="font-family:'Liberation Serif', serif" fill="#000" stroke="#000" stroke-width="0.22">GF109203</text>
<text x="0" y="0" transform="translate(300.8,229.4) scale(0.94,1)" font-size="10.3" style="font-family:'Liberation Serif', serif" fill="#000" stroke="#000" stroke-width="0.22">PMA</text>
<line x1="376.20" y1="189.40" x2="379.60" y2="189.40" stroke="#1a1a1a" stroke-width="1.15"/>
<line x1="386.40" y1="189.40" x2="389.80" y2="189.40" stroke="#1a1a1a" stroke-width="1.15"/>
<line x1="414.20" y1="189.40" x2="417.60" y2="189.40" stroke="#1a1a1a" stroke-width="1.15"/>
<line x1="424.20" y1="189.40" x2="427.60" y2="189.40" stroke="#1a1a1a" stroke-width="1.15"/>
<line x1="450.20" y1="189.40" x2="455.80" y2="189.40" stroke="#111" stroke-width="1.2"/>
<line x1="453.00" y1="186.70" x2="453.00" y2="192.10" stroke="#111" stroke-width="1.2"/>
<line x1="461.40" y1="189.40" x2="467.00" y2="189.40" stroke="#111" stroke-width="1.2"/>
<line x1="464.20" y1="186.70" x2="464.20" y2="192.10" stroke="#111" stroke-width="1.2"/>
<line x1="490.05" y1="189.40" x2="493.45" y2="189.40" stroke="#1a1a1a" stroke-width="1.15"/>
<line x1="499.55" y1="189.40" x2="502.95" y2="189.40" stroke="#1a1a1a" stroke-width="1.15"/>
<line x1="376.20" y1="202.80" x2="379.60" y2="202.80" stroke="#1a1a1a" stroke-width="1.15"/>
<line x1="386.40" y1="202.80" x2="389.80" y2="202.80" stroke="#1a1a1a" stroke-width="1.15"/>
<line x1="414.20" y1="202.80" x2="417.60" y2="202.80" stroke="#1a1a1a" stroke-width="1.15"/>
<line x1="424.20" y1="202.80" x2="427.60" y2="202.80" stroke="#1a1a1a" stroke-width="1.15"/>
<line x1="452.00" y1="202.80" x2="455.40" y2="202.80" stroke="#1a1a1a" stroke-width="1.15"/>
<line x1="462.00" y1="202.80" x2="465.40" y2="202.80" stroke="#1a1a1a" stroke-width="1.15"/>
<line x1="488.25" y1="202.80" x2="493.85" y2="202.80" stroke="#111" stroke-width="1.2"/>
<line x1="491.05" y1="200.10" x2="491.05" y2="205.50" stroke="#111" stroke-width="1.2"/>
<line x1="498.95" y1="202.80" x2="504.55" y2="202.80" stroke="#111" stroke-width="1.2"/>
<line x1="501.75" y1="200.10" x2="501.75" y2="205.50" stroke="#111" stroke-width="1.2"/>
<line x1="376.20" y1="216.00" x2="379.60" y2="216.00" stroke="#1a1a1a" stroke-width="1.15"/>
<line x1="386.40" y1="216.00" x2="389.80" y2="216.00" stroke="#1a1a1a" stroke-width="1.15"/>
<line x1="412.40" y1="216.00" x2="418.00" y2="216.00" stroke="#111" stroke-width="1.2"/>
<line x1="415.20" y1="213.30" x2="415.20" y2="218.70" stroke="#111" stroke-width="1.2"/>
<line x1="423.60" y1="216.00" x2="429.20" y2="216.00" stroke="#111" stroke-width="1.2"/>
<line x1="426.40" y1="213.30" x2="426.40" y2="218.70" stroke="#111" stroke-width="1.2"/>
<line x1="452.00" y1="216.00" x2="455.40" y2="216.00" stroke="#1a1a1a" stroke-width="1.15"/>
<line x1="462.00" y1="216.00" x2="465.40" y2="216.00" stroke="#1a1a1a" stroke-width="1.15"/>
<line x1="490.05" y1="216.00" x2="493.45" y2="216.00" stroke="#1a1a1a" stroke-width="1.15"/>
<line x1="499.55" y1="216.00" x2="502.95" y2="216.00" stroke="#1a1a1a" stroke-width="1.15"/>
<line x1="376.80" y1="229.30" x2="380.20" y2="229.30" stroke="#1a1a1a" stroke-width="1.15"/>
<line x1="385.90" y1="229.30" x2="391.50" y2="229.30" stroke="#111" stroke-width="1.2"/>
<line x1="388.70" y1="226.60" x2="388.70" y2="232.00" stroke="#111" stroke-width="1.2"/>
<line x1="414.80" y1="229.30" x2="418.20" y2="229.30" stroke="#1a1a1a" stroke-width="1.15"/>
<line x1="423.70" y1="229.30" x2="429.30" y2="229.30" stroke="#111" stroke-width="1.2"/>
<line x1="426.50" y1="226.60" x2="426.50" y2="232.00" stroke="#111" stroke-width="1.2"/>
<line x1="452.60" y1="229.30" x2="456.00" y2="229.30" stroke="#1a1a1a" stroke-width="1.15"/>
<line x1="461.50" y1="229.30" x2="467.10" y2="229.30" stroke="#111" stroke-width="1.2"/>
<line x1="464.30" y1="226.60" x2="464.30" y2="232.00" stroke="#111" stroke-width="1.2"/>
<line x1="490.65" y1="229.30" x2="494.05" y2="229.30" stroke="#1a1a1a" stroke-width="1.15"/>
<line x1="499.05" y1="229.30" x2="504.65" y2="229.30" stroke="#111" stroke-width="1.2"/>
<line x1="501.85" y1="226.60" x2="501.85" y2="232.00" stroke="#111" stroke-width="1.2"/>
<line x1="359.90" y1="287.10" x2="359.90" y2="431.30" stroke="#333" stroke-width="1.25"/>
<line x1="359.90" y1="431.30" x2="477.80" y2="431.30" stroke="#333" stroke-width="1.25"/>
<line x1="356.40" y1="431.30" x2="359.90" y2="431.30" stroke="#333" stroke-width="1.25"/>
<text x="0" y="0" transform="translate(352.60,434.80) scale(0.84,1)" text-anchor="end" font-size="10.1" style="font-family:'Liberation Serif', serif" fill="#000" stroke="#000" stroke-width="0.32">0</text>
<line x1="356.40" y1="410.70" x2="359.90" y2="410.70" stroke="#333" stroke-width="1.25"/>
<text x="0" y="0" transform="translate(352.60,414.20) scale(0.84,1)" text-anchor="end" font-size="10.1" style="font-family:'Liberation Serif', serif" fill="#000" stroke="#000" stroke-width="0.32">20</text>
<line x1="356.40" y1="390.10" x2="359.90" y2="390.10" stroke="#333" stroke-width="1.25"/>
<text x="0" y="0" transform="translate(352.60,393.60) scale(0.84,1)" text-anchor="end" font-size="10.1" style="font-family:'Liberation Serif', serif" fill="#000" stroke="#000" stroke-width="0.32">40</text>
<line x1="356.40" y1="369.50" x2="359.90" y2="369.50" stroke="#333" stroke-width="1.25"/>
<text x="0" y="0" transform="translate(352.60,373.00) scale(0.84,1)" text-anchor="end" font-size="10.1" style="font-family:'Liberation Serif', serif" fill="#000" stroke="#000" stroke-width="0.32">60</text>
<line x1="356.40" y1="348.90" x2="359.90" y2="348.90" stroke="#333" stroke-width="1.25"/>
<text x="0" y="0" transform="translate(352.60,352.40) scale(0.84,1)" text-anchor="end" font-size="10.1" style="font-family:'Liberation Serif', serif" fill="#000" stroke="#000" stroke-width="0.32">80</text>
<line x1="356.40" y1="328.30" x2="359.90" y2="328.30" stroke="#333" stroke-width="1.25"/>
<text x="0" y="0" transform="translate(352.60,331.80) scale(0.84,1)" text-anchor="end" font-size="10.1" style="font-family:'Liberation Serif', serif" fill="#000" stroke="#000" stroke-width="0.32">100</text>
<line x1="356.40" y1="307.70" x2="359.90" y2="307.70" stroke="#333" stroke-width="1.25"/>
<text x="0" y="0" transform="translate(352.60,311.20) scale(0.84,1)" text-anchor="end" font-size="10.1" style="font-family:'Liberation Serif', serif" fill="#000" stroke="#000" stroke-width="0.32">120</text>
<line x1="356.40" y1="287.10" x2="359.90" y2="287.10" stroke="#333" stroke-width="1.25"/>
<text x="0" y="0" transform="translate(352.60,290.60) scale(0.84,1)" text-anchor="end" font-size="10.1" style="font-family:'Liberation Serif', serif" fill="#000" stroke="#000" stroke-width="0.32">140</text>
<line x1="359.90" y1="431.30" x2="359.90" y2="434.90" stroke="#333" stroke-width="1.25"/>
<line x1="399.20" y1="431.30" x2="399.20" y2="434.90" stroke="#333" stroke-width="1.25"/>
<line x1="438.50" y1="431.30" x2="438.50" y2="434.90" stroke="#333" stroke-width="1.25"/>
<line x1="477.80" y1="431.30" x2="477.80" y2="434.90" stroke="#333" stroke-width="1.25"/>
<rect x="368.32" y="328.30" width="11.23" height="103.00" fill="#fff" stroke="#333" stroke-width="1.25"/>
<line x1="373.94" y1="328.30" x2="373.94" y2="314.39" stroke="#333" stroke-width="1.2"/>
<line x1="371.54" y1="314.39" x2="376.14" y2="314.39" stroke="#222" stroke-width="1.4"/>
<rect x="379.75" y="356.10" width="11.23" height="75.20" fill="#000" stroke="#000" stroke-width="0.6"/>
<line x1="385.16" y1="355.80" x2="385.16" y2="339.22" stroke="#333" stroke-width="1.2"/>
<line x1="382.76" y1="339.22" x2="387.36" y2="339.22" stroke="#222" stroke-width="1.4"/>
<rect x="407.62" y="328.30" width="11.23" height="103.00" fill="#fff" stroke="#333" stroke-width="1.25"/>
<line x1="413.24" y1="328.30" x2="413.24" y2="321.19" stroke="#333" stroke-width="1.2"/>
<line x1="410.84" y1="321.19" x2="415.44" y2="321.19" stroke="#222" stroke-width="1.4"/>
<rect x="419.05" y="353.42" width="11.23" height="77.88" fill="#000" stroke="#000" stroke-width="0.6"/>
<line x1="424.46" y1="353.12" x2="424.46" y2="343.65" stroke="#333" stroke-width="1.2"/>
<line x1="422.06" y1="343.65" x2="426.66" y2="343.65" stroke="#222" stroke-width="1.4"/>
<rect x="446.92" y="328.30" width="11.23" height="103.00" fill="#fff" stroke="#333" stroke-width="1.25"/>
<line x1="452.54" y1="328.30" x2="452.54" y2="319.44" stroke="#333" stroke-width="1.2"/>
<line x1="450.14" y1="319.44" x2="454.74" y2="319.44" stroke="#222" stroke-width="1.4"/>
<rect x="458.35" y="346.21" width="11.23" height="85.09" fill="#000" stroke="#000" stroke-width="0.6"/>
<line x1="463.76" y1="345.91" x2="463.76" y2="339.63" stroke="#333" stroke-width="1.2"/>
<line x1="461.36" y1="339.63" x2="465.96" y2="339.63" stroke="#222" stroke-width="1.4"/>
<g font-size="10.1" font-weight="bold" style="font-family:'Liberation Serif', serif" fill="#000" stroke="#000" stroke-width="0.35"><text x="0" y="0" transform="translate(318.00,412.80) rotate(-90) scale(1.120,1) translate(-1.04,0)">%</text><text x="0" y="0" transform="translate(318.00,399.90) rotate(-90) scale(0.780,1) translate(-0.38,0)">o</text><text x="0" y="0" transform="translate(318.00,393.90) rotate(-90) scale(1.120,1) translate(-0.07,0)">f</text><text x="0" y="0" transform="translate(318.00,387.20) rotate(-90) scale(0.954,1) translate(-0.17,0)">B</text><text x="0" y="0" transform="translate(318.00,379.70) rotate(-90) scale(0.780,1) translate(-0.32,0)">a</text><text x="0" y="0" transform="translate(318.00,375.80) rotate(-90) scale(0.800,1) translate(-0.30,0)">s</text><text x="0" y="0" transform="translate(318.00,371.60) rotate(-90) scale(0.780,1) translate(-0.32,0)">a</text><text x="0" y="0" transform="translate(318.00,367.10) rotate(-90) scale(1.120,1) translate(-0.20,0)">l</text><text x="0" y="0" transform="translate(318.00,361.90) rotate(-90) scale(1.120,1) translate(-0.34,0)">c</text><text x="0" y="0" transform="translate(318.00,355.10) rotate(-90) scale(0.780,1) translate(-0.10,0)">A</text><text x="0" y="0" transform="translate(318.00,348.20) rotate(-90) scale(0.959,1) translate(-0.17,0)">M</text><text x="0" y="0" transform="translate(318.00,337.70) rotate(-90) scale(0.841,1) translate(-0.17,0)">P</text><text x="0" y="0" transform="translate(318.00,328.40) rotate(-90) scale(0.879,1) translate(-0.17,0)">L</text><text x="0" y="0" transform="translate(318.00,320.90) rotate(-90) scale(0.780,1) translate(-0.34,0)">e</text><text x="0" y="0" transform="translate(318.00,316.40) rotate(-90) scale(0.780,1) translate(-0.00,0)">v</text><text x="0" y="0" transform="translate(318.00,311.00) rotate(-90) scale(0.780,1) translate(-0.34,0)">e</text><text x="0" y="0" transform="translate(318.00,306.50) rotate(-90) scale(1.109,1) translate(-0.20,0)">l</text></g>
<text x="0" y="0" transform="translate(298.2,281.6) scale(1.0,1)" font-size="21" font-weight="bold" style="font-family:'Liberation Sans', sans-serif" fill="#000" stroke="#000" stroke-width="0.7">D</text>
<text x="0" y="0" transform="translate(298.1,452.09999999999997) scale(0.94,1)" font-size="10.3" style="font-family:'Liberation Serif', serif" fill="#000" stroke="#000" stroke-width="0.22">P2Y12 inhibitor</text>
<text x="0" y="0" transform="translate(298.1,463.7) scale(0.94,1)" font-size="10.3" style="font-family:'Liberation Serif', serif" fill="#000" stroke="#000" stroke-width="0.22">Akt inhibitor</text>
<text x="0" y="0" transform="translate(298.1,474.59999999999997) scale(0.94,1)" font-size="10.3" style="font-family:'Liberation Serif', serif" fill="#000" stroke="#000" stroke-width="0.22">TPO</text>
<line x1="375.50" y1="449.10" x2="378.90" y2="449.10" stroke="#1a1a1a" stroke-width="1.15"/>
<line x1="386.30" y1="449.10" x2="389.70" y2="449.10" stroke="#1a1a1a" stroke-width="1.15"/>
<line x1="414.35" y1="449.10" x2="419.95" y2="449.10" stroke="#111" stroke-width="1.2"/>
<line x1="417.15" y1="446.40" x2="417.15" y2="451.80" stroke="#111" stroke-width="1.2"/>
<line x1="424.85" y1="449.10" x2="430.45" y2="449.10" stroke="#111" stroke-width="1.2"/>
<line x1="427.65" y1="446.40" x2="427.65" y2="451.80" stroke="#111" stroke-width="1.2"/>
<line x1="454.95" y1="449.10" x2="458.35" y2="449.10" stroke="#1a1a1a" stroke-width="1.15"/>
<line x1="464.45" y1="449.10" x2="467.85" y2="449.10" stroke="#1a1a1a" stroke-width="1.15"/>
<line x1="375.50" y1="461.60" x2="378.90" y2="461.60" stroke="#1a1a1a" stroke-width="1.15"/>
<line x1="386.30" y1="461.60" x2="389.70" y2="461.60" stroke="#1a1a1a" stroke-width="1.15"/>
<line x1="416.15" y1="461.60" x2="419.55" y2="461.60" stroke="#1a1a1a" stroke-width="1.15"/>
<line x1="425.45" y1="461.60" x2="428.85" y2="461.60" stroke="#1a1a1a" stroke-width="1.15"/>
<line x1="453.15" y1="461.60" x2="458.75" y2="461.60" stroke="#111" stroke-width="1.2"/>
<line x1="455.95" y1="458.90" x2="455.95" y2="464.30" stroke="#111" stroke-width="1.2"/>
<line x1="463.85" y1="461.60" x2="469.45" y2="461.60" stroke="#111" stroke-width="1.2"/>
<line x1="466.65" y1="458.90" x2="466.65" y2="464.30" stroke="#111" stroke-width="1.2"/>
<line x1="376.10" y1="474.70" x2="379.50" y2="474.70" stroke="#1a1a1a" stroke-width="1.15"/>
<line x1="385.80" y1="474.70" x2="391.40" y2="474.70" stroke="#111" stroke-width="1.2"/>
<line x1="388.60" y1="472.00" x2="388.60" y2="477.40" stroke="#111" stroke-width="1.2"/>
<line x1="416.75" y1="474.70" x2="420.15" y2="474.70" stroke="#1a1a1a" stroke-width="1.15"/>
<line x1="424.95" y1="474.70" x2="430.55" y2="474.70" stroke="#111" stroke-width="1.2"/>
<line x1="427.75" y1="472.00" x2="427.75" y2="477.40" stroke="#111" stroke-width="1.2"/>
<line x1="455.55" y1="474.70" x2="458.95" y2="474.70" stroke="#1a1a1a" stroke-width="1.15"/>
<line x1="463.95" y1="474.70" x2="469.55" y2="474.70" stroke="#111" stroke-width="1.2"/>
<line x1="466.75" y1="472.00" x2="466.75" y2="477.40" stroke="#111" stroke-width="1.2"/>
<rect x="421" y="497" width="2" height="1.6" fill="#999"/>
</g>
</svg>
</body></html>
